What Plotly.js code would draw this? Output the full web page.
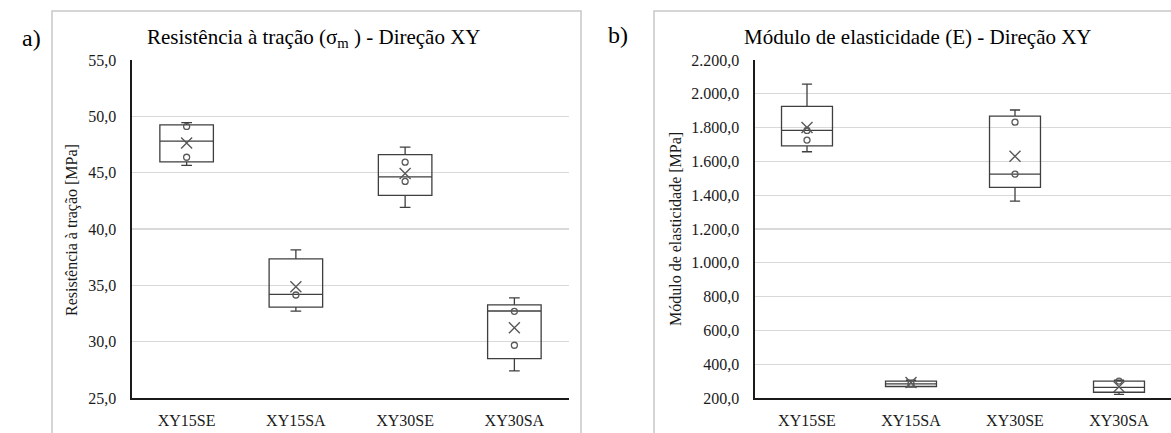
<!DOCTYPE html>
<html>
<head>
<meta charset="utf-8">
<script src="https://cdn.plot.ly/plotly-3.0.1.min.js"></script>
<style>
  html, body { margin: 0; padding: 0; background: #ffffff; }
  #chart { width: 1171px; height: 433px; }
</style>
</head>
<body>
<div id="chart"></div>
<script>
// ---------- data ----------
const categories = ['XY15SE', 'XY15SA', 'XY30SE', 'XY30SA'];

// a) Resistência à tração [MPa]
const tsLower  = [45.64, 32.71, 41.92, 27.41];
const tsQ1     = [45.96, 33.07, 42.98, 28.50];
const tsMedian = [47.80, 34.20, 44.63, 32.72];
const tsQ3     = [49.24, 37.34, 46.61, 33.27];
const tsUpper  = [49.44, 38.14, 47.26, 33.89];
const tsMean   = [47.64, 34.88, 44.93, 31.24];
const tsPointCat = ['XY15SE', 'XY15SE', 'XY15SA', 'XY30SE', 'XY30SE', 'XY30SA', 'XY30SA'];
const tsPointVal = [49.10, 46.37, 34.14, 45.93, 44.22, 32.69, 29.68];

// b) Módulo de elasticidade [MPa]
const emLower  = [1657, 264, 1365, 222];
const emQ1     = [1692, 268, 1446, 234];
const emMedian = [1783, 283, 1525, 263];
const emQ3     = [1925, 300, 1868, 300];
const emUpper  = [2057, 305, 1904, 305];
const emMean   = [1801, 292, 1630, 266];
const emPointCat = ['XY15SE', 'XY15SE', 'XY15SA', 'XY30SE', 'XY30SE', 'XY30SA'];
const emPointVal = [1783, 1726, 285, 1832, 1525, 300];

const tsTickVals = [25, 30, 35, 40, 45, 50, 55];
const emTickVals = [200, 400, 600, 800, 1000, 1200, 1400, 1600, 1800, 2000, 2200];

// ---------- layout helpers ----------
const W = 1171, H = 433;
const px = v => v / W;
const py = v => 1 - v / H;
const FONT = 'Liberation Serif';
const BOXLINE = '#3f3f3f';
const MARK = '#595959';

function boxTrace(xa, ya, q1, med, q3, lo, hi) {
  return {
    type: 'box', xaxis: xa, yaxis: ya,
    x: categories, q1: q1, median: med, q3: q3,
    lowerfence: lo, upperfence: hi,
    boxpoints: false, width: 0.49, whiskerwidth: 0.2,
    fillcolor: 'rgba(255,255,255,0)',
    line: { color: BOXLINE, width: 1.3 },
    hoverinfo: 'skip', showlegend: false
  };
}
function meanTrace(xa, ya, vals) {
  return {
    type: 'scatter', mode: 'markers', xaxis: xa, yaxis: ya,
    x: categories, y: vals,
    marker: { symbol: 'x-thin-open', size: 11, color: MARK, line: { color: MARK, width: 1.4 } },
    hoverinfo: 'skip', showlegend: false
  };
}
function pointTrace(xa, ya, cats, vals) {
  return {
    type: 'scatter', mode: 'markers', xaxis: xa, yaxis: ya,
    x: cats, y: vals,
    marker: { symbol: 'circle-open', size: 6, color: MARK, line: { color: MARK, width: 1.3 } },
    hoverinfo: 'skip', showlegend: false
  };
}

const data = [
  boxTrace('x', 'y', tsQ1, tsMedian, tsQ3, tsLower, tsUpper),
  pointTrace('x', 'y', tsPointCat, tsPointVal),
  meanTrace('x', 'y', tsMean),
  boxTrace('x2', 'y2', emQ1, emMedian, emQ3, emLower, emUpper),
  pointTrace('x2', 'y2', emPointCat, emPointVal),
  meanTrace('x2', 'y2', emMean)
];

const tickFont = { family: FONT, size: 16, color: '#1a1a1a' };

function xAxis(domain, anchor) {
  return {
    domain: domain, anchor: anchor, type: 'category',
    categoryorder: 'array', categoryarray: categories,
    range: [-0.5, 3.5],
    showgrid: false, zeroline: false,
    showline: true, linecolor: '#1a1a1a', linewidth: 2,
    ticks: '', tickfont: tickFont, ticklabelstandoff: 7,
    fixedrange: true
  };
}
function yAxis(domain, anchor, range, ticks, fmt, standoff) {
  return {
    domain: domain, anchor: anchor, range: range,
    tickvals: ticks, tickformat: fmt,
    showgrid: true, gridcolor: '#d9d9d9', gridwidth: 1.3,
    zeroline: false, showline: true, linecolor: '#1a1a1a', linewidth: 1.6,
    ticks: '', tickfont: tickFont, ticklabelstandoff: standoff,
    fixedrange: true
  };
}

const yDom = [py(398), py(60)];

const layout = {
  width: W, height: H,
  margin: { l: 0, r: 0, t: 0, b: 0, pad: 0 },
  paper_bgcolor: '#ffffff', plot_bgcolor: '#ffffff',
  separators: ',.',
  showlegend: false,
  font: { family: FONT },
  xaxis: xAxis([px(132), px(569)], 'y'),
  yaxis: yAxis(yDom, 'x', [25, 55], tsTickVals, '.1f', 11),
  xaxis2: xAxis([px(755), 1], 'y2'),
  yaxis2: yAxis(yDom, 'x2', [200, 2200], emTickVals, ',.1f', 11),
  shapes: [
    { type: 'rect', xref: 'paper', yref: 'paper', x0: px(52), x1: px(581), y0: -0.05, y1: py(11),
      line: { color: '#c8c8c8', width: 1.5 }, fillcolor: 'rgba(0,0,0,0)', layer: 'below' },
    { type: 'rect', xref: 'paper', yref: 'paper', x0: px(654), x1: 1.05, y0: -0.05, y1: py(11),
      line: { color: '#c8c8c8', width: 1.5 }, fillcolor: 'rgba(0,0,0,0)', layer: 'below' }
  ],
  annotations: [
    { text: 'a)', xref: 'paper', yref: 'paper', x: px(31), y: py(38), xanchor: 'center', yanchor: 'middle',
      showarrow: false, font: { family: FONT, size: 24, color: '#000' } },
    { text: 'b)', xref: 'paper', yref: 'paper', x: px(618), y: py(35), xanchor: 'center', yanchor: 'middle',
      showarrow: false, font: { family: FONT, size: 24, color: '#000' } },
    { text: 'Resistência à tração (σ<sub>m</sub> ) - Direção XY', xref: 'paper', yref: 'paper',
      x: px(314), y: py(38), xanchor: 'center', yanchor: 'middle',
      showarrow: false, font: { family: FONT, size: 21, color: '#000' } },
    { text: 'Módulo de elasticidade (E) - Direção XY', xref: 'paper', yref: 'paper',
      x: px(918), y: py(37), xanchor: 'center', yanchor: 'middle',
      showarrow: false, font: { family: FONT, size: 21, color: '#000' } },
    { text: 'Resistência à tração [MPa]', xref: 'paper', yref: 'paper',
      x: px(72), y: py(230), xanchor: 'center', yanchor: 'middle', textangle: -90,
      showarrow: false, font: { family: FONT, size: 16, color: '#1a1a1a' } },
    { text: 'Módulo de elasticidade [MPa]', xref: 'paper', yref: 'paper',
      x: px(675), y: py(229), xanchor: 'center', yanchor: 'middle', textangle: -90,
      showarrow: false, font: { family: FONT, size: 16, color: '#1a1a1a' } }
  ]
};

Plotly.newPlot('chart', data, layout, { staticPlot: true, displayModeBar: false });
</script>
</body>
</html>
